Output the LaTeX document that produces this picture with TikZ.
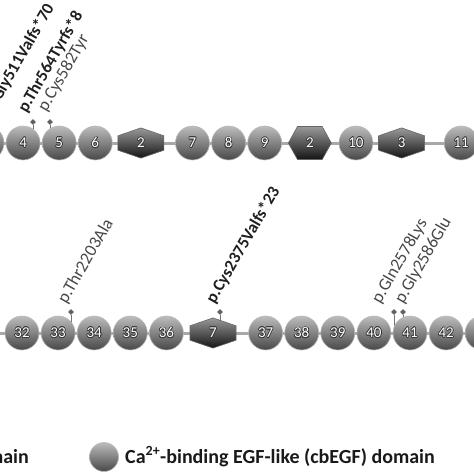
\documentclass[tikz,border=0pt]{standalone}
\usepackage{fontspec}
\setmainfont{Carlito}
\usepackage{contour}
\contourlength{0.6pt}
\usetikzlibrary{positioning,shapes.geometric,shapes.symbols}
\definecolor{spinegray}{gray}{0.66}
\definecolor{ballrim}{gray}{0.72}
\definecolor{hexrim}{gray}{0.40}
\definecolor{numrim}{gray}{0.22}
\newcommand\dnum[1]{\contour{numrim}{#1}}

\begin{document}
\begin{tikzpicture}[x=1pt,y=-1pt,node distance=1.5pt,
egf/.style={circle,minimum size=34pt,inner sep=0pt,draw=ballrim,line width=0.6pt,
top color=black!26,bottom color=black!72,text=white,font=\fontsize{15}{15}\selectfont},
vhex/.style={signal,signal to=north and south,signal pointer angle=142,
minimum width=46pt,minimum height=17pt,inner sep=0pt,draw=hexrim,line width=0.6pt,
top color=black!40,bottom color=black!92,text=white,font=\fontsize{15}{15}\selectfont},
hhex/.style={signal,signal to=east and west,signal pointer angle=122,
minimum width=43pt,minimum height=33pt,inner sep=0pt,draw=hexrim,line width=0.6pt,
top color=black!40,bottom color=black!92,text=white,font=\fontsize{15}{15}\selectfont},
snp/.style={diamond,fill=black!62,minimum size=6pt,inner sep=0pt},
stem/.style={draw=black!55,line width=0.8pt},
spine/.style={draw=spinegray,line width=3pt},
fsmut/.style={rotate=60,anchor=south west,inner sep=0pt,text=black!88,
font=\fontsize{17}{17}\selectfont\bfseries},
msmut/.style={rotate=60,anchor=south west,inner sep=0pt,text=black!72,
font=\fontsize{17.5}{17.5}\selectfont},
keytext/.style={inner sep=0pt,text=black!90,font=\fontsize{20}{20}\selectfont\bfseries}]
\clip (0,0) rectangle (474,474);
% backbone of both rows
\coordinate (s1w) at (-40,143);\coordinate (s1e) at (490,143);
\coordinate (s2w) at (-10,333);\coordinate (s2e) at (500,333);
\draw[spine] (s1w)--(s1e);\draw[spine] (s2w)--(s2e);
% variant markers
\node[snp] (m511) at (-6,122) {};
\node[snp] (m564) at (33,122) {};
\node[snp] (m582) at (50,122) {};
\node[snp] (m2203) at (71,312) {};
\node[snp] (m2375) at (220,312) {};
\node[snp] (m2578) at (394,312) {};
\node[snp] (m2586) at (403,312) {};
\coordinate (f511) at (-6,143);\coordinate (f564) at (33,143);\coordinate (f582) at (50,143);
\coordinate (f2203) at (71,333);\coordinate (f2375) at (220,333);
\coordinate (f2578) at (394,333);\coordinate (f2586) at (403,333);
\draw[stem] (m511)--(f511);\draw[stem] (m564)--(f564);\draw[stem] (m582)--(f582);
\draw[stem] (m2203)--(f2203);\draw[stem] (m2375)--(f2375);
\draw[stem] (m2578)--(f2578);\draw[stem] (m2586)--(f2586);
% first row
\node[egf] (c3) at (-13,143) {\dnum{3}};
\node[egf,right=of c3] (c4) {\dnum{4}};
\node[egf,right=of c4] (c5) {\dnum{5}};
\node[egf,right=of c5] (c6) {\dnum{6}};
\node[vhex,right=5pt of c6] (h2a) {\dnum{2}};
\node[egf,right=11pt of h2a] (c7) {\dnum{7}};
\node[egf,right=of c7] (c8) {\dnum{8}};
\node[egf,right=of c8] (c9) {\dnum{9}};
\node[hhex,right=6pt of c9] (h2b) {\dnum{2}};
\node[egf,right=7pt of h2b] (c10) {\dnum{10}};
\node[vhex,right=5pt of c10] (h3) {\dnum{3}};
\node[egf,right=19pt of h3] (c11) {\dnum{11}};
% second row
\node[egf] (c32) at (22,333) {\dnum{32}};
\node[egf,right=of c32] (c33) {\dnum{33}};
\node[egf,right=of c33] (c34) {\dnum{34}};
\node[egf,right=of c34] (c35) {\dnum{35}};
\node[egf,right=of c35] (c36) {\dnum{36}};
\node[vhex,right=6pt of c36] (h7) {\dnum{7}};
\node[egf,right=12pt of h7] (c37) {\dnum{37}};
\node[egf,right=of c37] (c38) {\dnum{38}};
\node[egf,right=of c38] (c39) {\dnum{39}};
\node[egf,right=of c39] (c40) {\dnum{40}};
\node[egf,right=of c40] (c41) {\dnum{41}};
\node[egf,right=of c41] (c42) {\dnum{42}};
\node[egf,right=of c42] (c43) {\dnum{43}};
% variant labels
\node[fsmut] (t511) at (-4,115) {p.Gly511Valfs*70};
\node[fsmut] (t564) at (29,115) {p.Thr564Tyrfs*8};
\node[msmut] (t582) at (49,114) {p.Cys582Tyr};
\node[msmut] (t2203) at (69,306) {p.Thr2203Ala};
\node[fsmut] (t2375) at (217,306) {p.Cys2375Valfs*23};
\node[msmut] (t2578) at (383,306) {p.Gln2578Lys};
\node[msmut] (t2586) at (406,306) {p.Gly2586Glu};
% legend
\node[keytext,anchor=base east] (keyprev) at (29,463) {domain};
\node[egf,minimum size=29pt] (key) at (104,457) {};
\node[keytext,anchor=base west] (keylab) at (125,463) {Ca\textsuperscript{2+}-binding EGF-like (cbEGF) domain};
\end{tikzpicture}
\end{document}
